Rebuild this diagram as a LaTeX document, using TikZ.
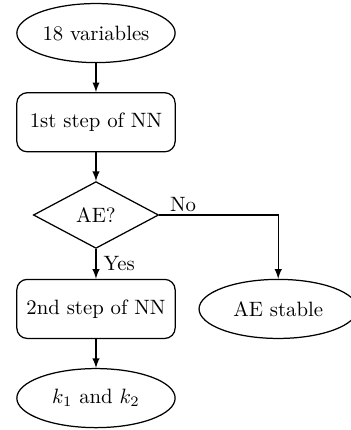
\documentclass[tikz,border=0pt]{standalone}
\usetikzlibrary{shapes.geometric}
\tikzset{
  startstop/.style={draw, ellipse, inner sep=1pt, minimum width=2.68cm, minimum height=1cm},
  process/.style={draw, rectangle, rounded corners=5pt, minimum width=2.68cm, minimum height=1cm},
  decision/.style={draw, diamond, aspect=1.9, minimum width=2.12cm, minimum height=1.13cm, inner sep=1pt}
}
\begin{document}
\begin{tikzpicture}[semithick]
            \useasboundingbox (0,0) rectangle (5.93,-7.28);
            \node[startstop] (vars) at (1.625,-0.56) {18 variables};
            \node[process] (step1) at (1.625,-2.07) {1st step of NN};
            \node[decision] (ae) at (1.625,-3.64) {AE?};
            \node[process] (step2) at (1.625,-5.23) {2nd step of NN};
            \node[startstop] (stable) at (4.71,-5.23) {AE stable};
            \node[startstop] (ks) at (1.625,-6.74) {$k_1$ and $k_2$};
            \draw[semithick, ->, >=latex] (vars) -- (step1);
            \draw[semithick, ->, >=latex] (step1) -- (ae);
            \draw[semithick, ->, >=latex] (ae) -- node[right]{Yes} (step2);
            \draw[semithick, ->, >=latex] (ae.east) -| node[pos=0.1, above, inner sep=1.5pt]{No} (stable);
            \draw[semithick, ->, >=latex] (step2) -- (ks);
        \end{tikzpicture}
\end{document}
